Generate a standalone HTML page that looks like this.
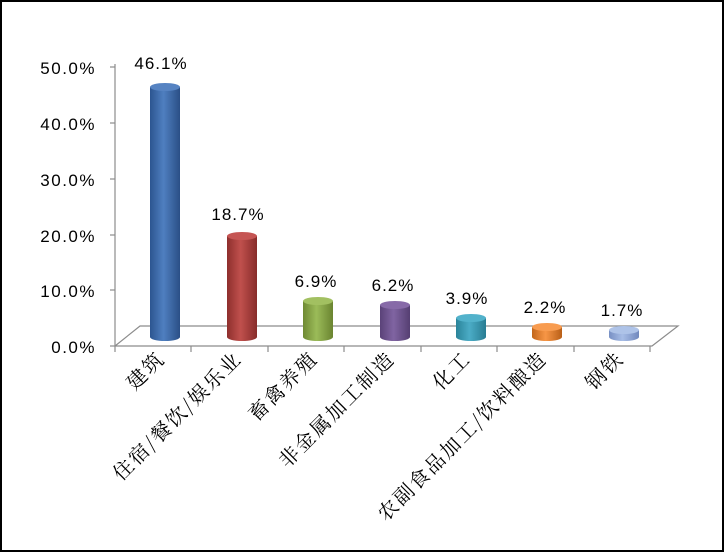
<!DOCTYPE html><html><head><meta charset="utf-8"><style>body{margin:0;background:#fff}</style></head><body>
<svg width="724" height="552" xmlns="http://www.w3.org/2000/svg" font-family="Liberation Sans, Noto Sans CJK SC, sans-serif">
<defs>
<linearGradient id="g0" x1="0" x2="1"><stop offset="0" stop-color="#2c5590"/><stop offset=".45" stop-color="#4f7fc0"/><stop offset="1" stop-color="#2a4f86"/></linearGradient>
<linearGradient id="g1" x1="0" x2="1"><stop offset="0" stop-color="#8e2f2d"/><stop offset=".45" stop-color="#c0504d"/><stop offset="1" stop-color="#872c2a"/></linearGradient>
<linearGradient id="g2" x1="0" x2="1"><stop offset="0" stop-color="#6f8a33"/><stop offset=".45" stop-color="#9bbb59"/><stop offset="1" stop-color="#6a8430"/></linearGradient>
<linearGradient id="g3" x1="0" x2="1"><stop offset="0" stop-color="#5a4278"/><stop offset=".45" stop-color="#8064a2"/><stop offset="1" stop-color="#553f72"/></linearGradient>
<linearGradient id="g4" x1="0" x2="1"><stop offset="0" stop-color="#2a8399"/><stop offset=".45" stop-color="#4bacc6"/><stop offset="1" stop-color="#287c92"/></linearGradient>
<linearGradient id="g5" x1="0" x2="1"><stop offset="0" stop-color="#c2661a"/><stop offset=".45" stop-color="#f79646"/><stop offset="1" stop-color="#b95f17"/></linearGradient>
<linearGradient id="g6" x1="0" x2="1"><stop offset="0" stop-color="#7890c4"/><stop offset=".45" stop-color="#a7bde6"/><stop offset="1" stop-color="#7188bd"/></linearGradient>
</defs>
<rect x="1" y="1" width="722" height="550" fill="#fff" stroke="#000" stroke-width="2"/>
<g stroke="#8c8c8c" stroke-width="1.2" fill="none">
<line x1="115" y1="64" x2="115" y2="346"/>
<line x1="110" y1="67" x2="115" y2="67"/><line x1="110" y1="123" x2="115" y2="123"/><line x1="110" y1="179" x2="115" y2="179"/><line x1="110" y1="235" x2="115" y2="235"/><line x1="110" y1="290" x2="115" y2="290"/><line x1="110" y1="346" x2="115" y2="346"/>
<polyline points="115,346 140,326 678,326 652,346 115,346"/>
<line x1="115" y1="346" x2="115" y2="352"/><line x1="191" y1="346" x2="191" y2="352"/><line x1="268" y1="346" x2="268" y2="352"/><line x1="344" y1="346" x2="344" y2="352"/><line x1="421" y1="346" x2="421" y2="352"/><line x1="497" y1="346" x2="497" y2="352"/><line x1="574" y1="346" x2="574" y2="352"/><line x1="650" y1="346" x2="650" y2="352"/>
</g>
<g font-size="17" fill="#000" text-anchor="end" letter-spacing="1.5">
<text x="96" y="74">50.0%</text><text x="96" y="130">40.0%</text><text x="96" y="186">30.0%</text><text x="96" y="242">20.0%</text><text x="96" y="297">10.0%</text><text x="96" y="353">0.0%</text>
</g>
<g>
<path d="M150,87 V337 A15,4 0 0 0 180,337 V87 Z" fill="url(#g0)"/><ellipse cx="165" cy="87" rx="15" ry="4" fill="#5683c2"/>
<path d="M227,236 V337 A15,4 0 0 0 257,337 V236 Z" fill="url(#g1)"/><ellipse cx="242" cy="236" rx="15" ry="4" fill="#c55553"/>
<path d="M303,301 V337 A15,4 0 0 0 333,337 V301 Z" fill="url(#g2)"/><ellipse cx="318" cy="301" rx="15" ry="4" fill="#a2c061"/>
<path d="M380,305 V337 A15,4 0 0 0 410,337 V305 Z" fill="url(#g3)"/><ellipse cx="395" cy="305" rx="15" ry="4" fill="#876aa8"/>
<path d="M456,318 V337 A15,4 0 0 0 486,337 V318 Z" fill="url(#g4)"/><ellipse cx="471" cy="318" rx="15" ry="4" fill="#52b2cb"/>
<path d="M532,327 V337 A15,4 0 0 0 562,337 V327 Z" fill="url(#g5)"/><ellipse cx="547" cy="327" rx="15" ry="4" fill="#f89c50"/>
<path d="M609,330 V337 A15,4 0 0 0 639,337 V330 Z" fill="url(#g6)"/><ellipse cx="624" cy="330" rx="15" ry="4" fill="#aec3e8"/>
</g>
<g font-size="17" fill="#000" text-anchor="middle" letter-spacing="1">
<text x="161" y="69">46.1%</text><text x="238" y="220">18.7%</text><text x="316" y="287">6.9%</text><text x="393" y="291">6.2%</text><text x="467" y="304">3.9%</text><text x="545" y="313">2.2%</text><text x="622" y="316">1.7%</text>
</g>
<g font-size="20" fill="#000" text-anchor="end" font-family="Noto Serif CJK SC, serif" letter-spacing="2">
<text transform="translate(166,360) rotate(-45)">建筑</text>
<text transform="translate(243,360) rotate(-45)">住宿/餐饮/娱乐业</text>
<text transform="translate(319,360) rotate(-45)">畜禽养殖</text>
<text transform="translate(396,360) rotate(-45)">非金属加工制造</text>
<text transform="translate(472,360) rotate(-45)">化工</text>
<text transform="translate(548,360) rotate(-45)">农副食品加工/饮料酿造</text>
<text transform="translate(625,360) rotate(-45)">钢铁</text>
</g>
</svg>
</body></html>
